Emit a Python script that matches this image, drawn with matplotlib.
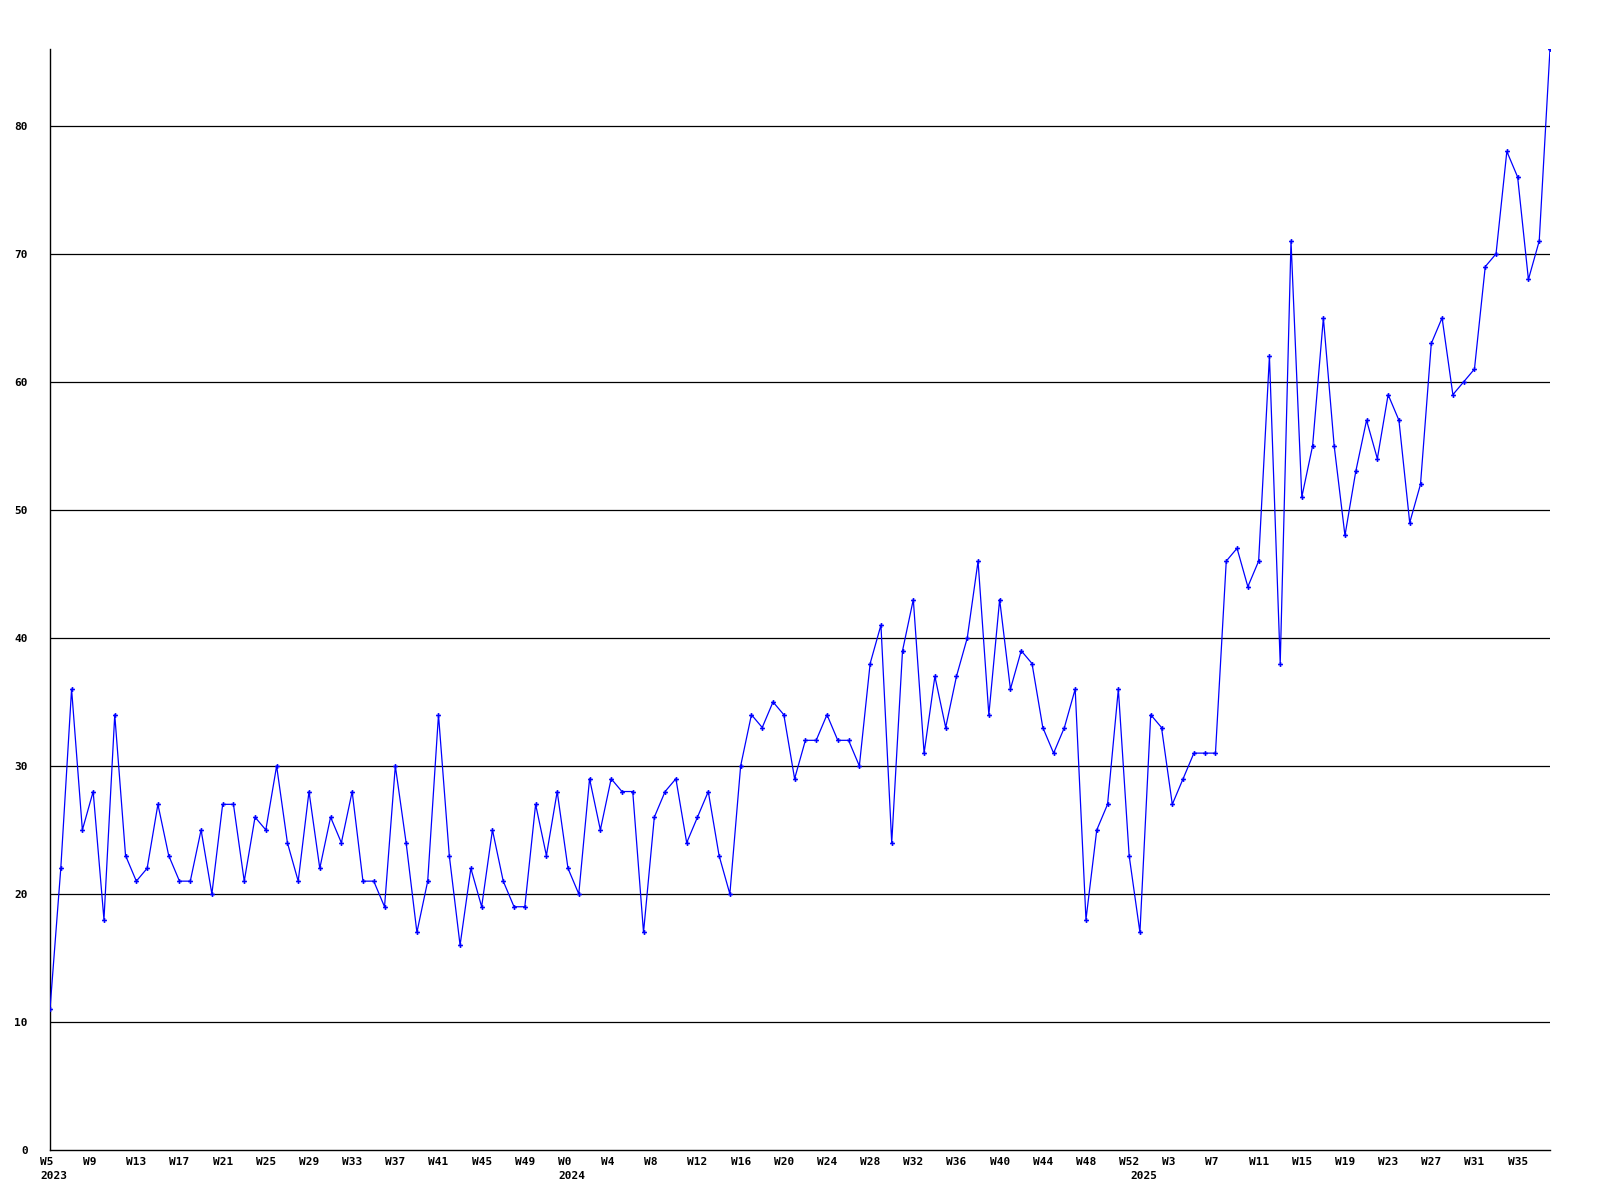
import matplotlib
matplotlib.use("Agg")
import matplotlib.pyplot as plt
from matplotlib import transforms

# Datos semanales
semanas_2023 = list(range(5, 53))
valores_2023 = [11, 22, 36, 25, 28, 18, 34, 23, 21, 22, 27, 23, 21, 21, 25, 20,
                27, 27, 21, 26, 25, 30, 24, 21, 28, 22, 26, 24, 28, 21, 21, 19,
                30, 24, 17, 21, 34, 23, 16, 22, 19, 25, 21, 19, 19, 27, 23, 28]

semanas_2024 = list(range(0, 53))
valores_2024 = [22, 20, 29, 25, 29, 28, 28, 17, 26, 28, 29, 24, 26, 28, 23, 20,
                30, 34, 33, 35, 34, 29, 32, 32, 34, 32, 32, 30, 38, 41, 24, 39,
                43, 31, 37, 33, 37, 40, 46, 34, 43, 36, 39, 38, 33, 31, 33, 36,
                18, 25, 27, 36, 23]

semanas_2025 = list(range(0, 39))
valores_2025 = [17, 34, 33, 27, 29, 31, 31, 31, 46, 47, 44, 46, 62, 38, 71, 51,
                55, 65, 55, 48, 53, 57, 54, 59, 57, 49, 52, 63, 65, 59, 60, 61,
                69, 70, 78, 76, 68, 71, 86]

anios = ["2023", "2024", "2025"]
y_ticks = [0, 10, 20, 30, 40, 50, 60, 70, 80]

# -----------------------------------------------------------
# Armar series
# -----------------------------------------------------------
etiquetas = ([f"W{w}" for w in semanas_2023] + [f"W{w}" for w in semanas_2024]
             + [f"W{w}" for w in semanas_2025])
valores = valores_2023 + valores_2024 + valores_2025
x = list(range(len(valores)))
inicio_anio = [0, len(valores_2023), len(valores_2023) + len(valores_2024)]

fuente = dict(family="DejaVu Sans Mono", fontsize=8, fontweight="bold", color="black")

fig = plt.figure(figsize=(16, 12), dpi=100)
ax = fig.add_axes([50 / 1600, 1 - 1150 / 1200, 1500 / 1600, (1150 - 49) / 1200])

# lineas horizontales
for t in y_ticks[1:]:
    ax.axhline(t, color="black", linewidth=0.9, zorder=1)

ax.plot(x, valores, color="#0000ff", linewidth=0.9, marker="P", markersize=3.5,
        markeredgewidth=0, zorder=3, clip_on=True)

ax.set_xlim(0, len(valores) - 1)
ax.set_ylim(0, 86)

for lado in ["top", "right"]:
    ax.spines[lado].set_visible(False)
for lado in ["left", "bottom"]:
    ax.spines[lado].set_color("black")
    ax.spines[lado].set_linewidth(1.0)

ax.set_yticks(y_ticks)
ax.set_yticklabels([str(t) for t in y_ticks], **fuente)
ax.tick_params(axis="y", length=0, pad=16)

# etiquetas del eje x cada 4 semanas, alineadas a la izquierda
ax.set_xticks([])
desplaz = transforms.ScaledTranslation(-10 / 100, 0, fig.dpi_scale_trans)
trans = transforms.blended_transform_factory(ax.transData, ax.transAxes) + desplaz
for i in range(0, len(valores), 4):
    ax.text(i, -0.006, etiquetas[i], transform=trans, ha="left", va="top", **fuente)
for i, anio in zip(inicio_anio, anios):
    ax.text(i, -0.019, anio, transform=trans, ha="left", va="top", **fuente)

fig.savefig("out.png", dpi=100, facecolor="white")
